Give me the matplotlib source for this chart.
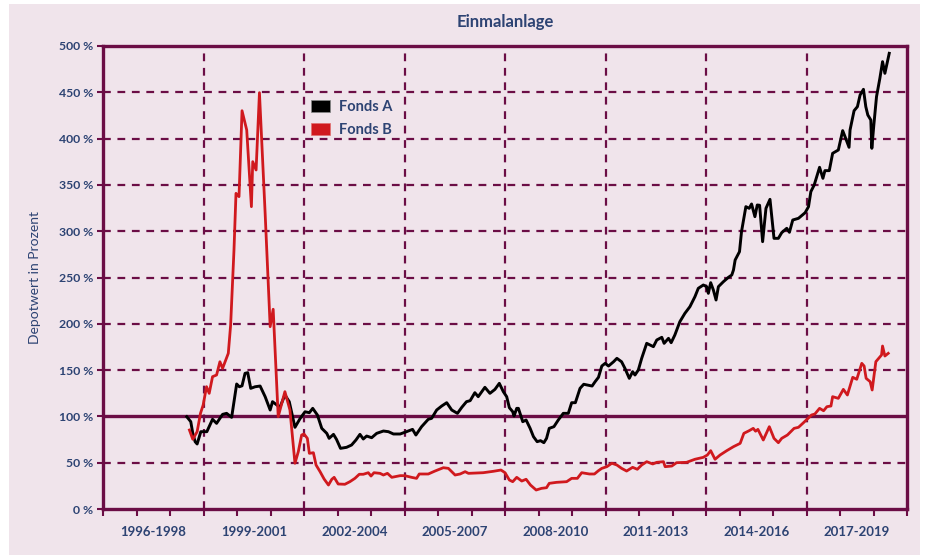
import matplotlib
matplotlib.use("Agg")
import matplotlib.pyplot as plt
from matplotlib.patches import Rectangle, Patch

plt.rcParams['font.family'] = ['Lato', 'DejaVu Sans']

# Zeitachse in Jahren (Dezimal), Depotwert in Prozent
fonds_a_t = [1998.50, 1998.62, 1998.68, 1998.75, 1998.81, 1998.92, 1999.10, 1999.27, 1999.39, 1999.57,
             1999.69, 1999.84, 1999.99, 2000.07, 2000.15, 2000.24, 2000.32, 2000.41, 2000.54, 2000.69,
             2000.84, 2000.99, 2001.06, 2001.28, 2001.43, 2001.56, 2001.73, 2001.88, 2002.03, 2002.16,
             2002.26, 2002.40, 2002.53, 2002.68, 2002.75, 2002.88, 2002.97, 2003.09, 2003.27, 2003.42,
             2003.55, 2003.67, 2003.77, 2003.87, 2004.02, 2004.17, 2004.37, 2004.52, 2004.67, 2004.87,
             2005.06, 2005.24, 2005.34, 2005.51, 2005.71, 2005.81, 2005.96, 2006.11, 2006.26, 2006.41,
             2006.58, 2006.71, 2006.85, 2006.96, 2007.10, 2007.20, 2007.40, 2007.55, 2007.70, 2007.83,
             2007.95, 2008.05, 2008.13, 2008.23, 2008.27, 2008.35, 2008.40, 2008.53, 2008.63, 2008.75,
             2008.85, 2008.96, 2009.06, 2009.16, 2009.24, 2009.32, 2009.46, 2009.59, 2009.74, 2009.89,
             2009.99, 2010.10, 2010.24, 2010.35, 2010.60, 2010.69, 2010.79, 2010.89, 2010.99, 2011.09,
             2011.24, 2011.34, 2011.48, 2011.58, 2011.71, 2011.81, 2011.88, 2011.98, 2012.08, 2012.23,
             2012.43, 2012.53, 2012.68, 2012.75, 2012.88, 2012.96, 2013.07, 2013.22, 2013.37, 2013.52,
             2013.67, 2013.77, 2013.92, 2014.02, 2014.07, 2014.14, 2014.22, 2014.30, 2014.37, 2014.52,
             2014.67, 2014.77, 2014.82, 2014.87, 2015.00, 2015.06, 2015.12, 2015.19, 2015.29, 2015.36,
             2015.46, 2015.53, 2015.60, 2015.69, 2015.79, 2015.91, 2016.03, 2016.16, 2016.26, 2016.41,
             2016.49, 2016.59, 2016.76, 2016.96, 2017.06, 2017.13, 2017.23, 2017.31, 2017.39, 2017.49,
             2017.55, 2017.68, 2017.78, 2017.95, 2018.08, 2018.15, 2018.27, 2018.30, 2018.42, 2018.52,
             2018.60, 2018.70, 2018.77, 2018.83, 2018.92, 2018.95, 2019.01, 2019.09, 2019.19, 2019.27,
             2019.34, 2019.47]
fonds_a_v = [99.7, 94.3, 81.7, 72.7, 70.2, 83.5, 83.5, 96.9, 92.5, 102.2,
             103.3, 99.0, 135.0, 132.0, 133.0, 146.5, 147.2, 130.3, 132.0, 132.8,
             121.3, 106.9, 115.9, 109.8, 123.1, 115.9, 88.2, 97.5, 105.0, 104.0,
             108.7, 101.5, 87.1, 81.7, 76.3, 80.6, 75.2, 65.5, 66.6, 69.1,
             74.5, 80.6, 75.6, 78.8, 77.0, 81.7, 84.2, 83.5, 81.0, 81.0,
             83.5, 86.0, 79.9, 88.9, 96.9, 97.9, 106.9, 111.2, 114.8, 106.9,
             103.3, 109.8, 115.9, 117.0, 125.6, 121.3, 131.4, 124.9, 129.2, 135.7,
             126.7, 121.3, 109.4, 105.1, 100.4, 108.7, 108.7, 94.3, 96.1, 87.1,
             78.1, 72.7, 73.8, 71.6, 76.3, 87.1, 88.9, 96.1, 103.3, 103.3,
             114.8, 114.8, 130.3, 134.7, 132.8, 137.5, 142.2, 154.4, 157.3, 154.4,
             159.0, 162.7, 159.0, 151.9, 141.1, 148.3, 144.7, 150.1, 162.7, 178.9,
             175.3, 182.5, 185.4, 178.9, 184.3, 179.6, 187.9, 202.3, 211.3, 218.5,
             229.3, 238.3, 241.9, 240.1, 232.9, 244.4, 236.5, 225.7, 240.1, 245.5,
             250.2, 252.7, 258.1, 268.9, 277.9, 299.5, 312.1, 326.5, 324.7, 329.4,
             315.7, 328.3, 328.0, 288.7, 324.7, 334.4, 292.3, 292.3, 298.4, 303.1,
             298.8, 312.1, 313.9, 320.0, 326.5, 342.7, 349.9, 359.6, 369.0, 357.1,
             365.4, 365.4, 384.1, 387.7, 408.6, 402.1, 390.6, 409.3, 430.1, 434.5,
             447.1, 453.2, 434.5, 425.5, 420.1, 389.5, 414.7, 445.3, 465.1, 483.1,
             470.5, 492.1]

fonds_b_t = [1998.58, 1998.68, 1998.81, 1998.91, 1998.99, 1999.09, 1999.17, 1999.27, 1999.39, 1999.49,
             1999.57, 1999.74, 1999.81, 1999.91, 1999.97, 2000.06, 2000.15, 2000.29, 2000.43, 2000.47,
             2000.57, 2000.67, 2000.84, 2000.99, 2001.08, 2001.23, 2001.43, 2001.58, 2001.73, 2001.83,
             2001.93, 2002.00, 2002.10, 2002.16, 2002.28, 2002.36, 2002.48, 2002.60, 2002.73, 2002.83,
             2002.90, 2003.02, 2003.22, 2003.37, 2003.52, 2003.65, 2003.77, 2003.92, 2004.00, 2004.09,
             2004.27, 2004.37, 2004.49, 2004.62, 2004.87, 2005.01, 2005.21, 2005.36, 2005.44, 2005.71,
             2005.91, 2006.16, 2006.31, 2006.51, 2006.66, 2006.81, 2006.91, 2007.35, 2007.65, 2007.88,
             2008.00, 2008.13, 2008.23, 2008.35, 2008.50, 2008.63, 2008.76, 2008.93, 2009.09, 2009.24,
             2009.32, 2009.54, 2009.84, 2009.99, 2010.16, 2010.29, 2010.52, 2010.67, 2010.79, 2010.89,
             2011.04, 2011.19, 2011.34, 2011.48, 2011.63, 2011.81, 2011.95, 2012.08, 2012.23, 2012.41,
             2012.53, 2012.73, 2012.78, 2012.98, 2013.12, 2013.42, 2013.67, 2013.92, 2014.04, 2014.14,
             2014.27, 2014.42, 2014.62, 2014.82, 2015.02, 2015.13, 2015.29, 2015.41, 2015.48, 2015.55,
             2015.71, 2015.89, 2016.03, 2016.16, 2016.26, 2016.43, 2016.63, 2016.76, 2016.91, 2017.15,
             2017.25, 2017.39, 2017.51, 2017.61, 2017.73, 2017.78, 2017.95, 2018.10, 2018.22, 2018.38,
             2018.50, 2018.65, 2018.72, 2018.78, 2018.90, 2018.96, 2019.07, 2019.24, 2019.27, 2019.34,
             2019.44]
fonds_b_v = [85.3, 75.3, 83.5, 103.3, 112.3, 132.1, 124.9, 142.9, 144.7, 159.0,
             151.9, 168.1, 198.7, 279.7, 340.9, 337.3, 430.1, 409.3, 326.5, 375.1,
             366.1, 449.6, 319.3, 196.9, 215.7, 99.7, 126.7, 106.9, 49.4, 61.9,
             79.9, 81.0, 76.3, 60.1, 60.8, 47.5, 40.3, 32.4, 25.9, 32.1,
             34.2, 27.0, 26.7, 29.5, 33.1, 37.5, 37.5, 39.2, 35.6, 39.2,
             38.5, 36.7, 38.5, 34.2, 36.0, 36.0, 34.2, 33.1, 37.8, 37.8,
             41.0, 44.6, 43.9, 36.7, 37.8, 40.3, 38.5, 39.2, 40.7, 42.1,
             39.2, 31.3, 29.5, 34.2, 30.2, 32.1, 25.9, 20.5, 22.3, 23.0,
             27.7, 28.8, 29.5, 33.1, 33.1, 39.2, 37.8, 37.8, 41.4, 43.9,
             45.7, 49.4, 47.5, 43.9, 41.0, 45.0, 42.9, 47.5, 51.1, 48.6,
             50.4, 51.1, 45.7, 46.4, 50.0, 50.4, 53.7, 55.8, 58.3, 63.0,
             53.7, 58.3, 63.0, 67.3, 70.9, 81.7, 84.6, 87.1, 84.0, 86.0,
             74.5, 88.9, 76.3, 71.6, 76.3, 79.9, 87.1, 88.2, 93.2, 101.5,
             102.6, 108.7, 106.1, 110.5, 111.2, 121.3, 119.5, 129.2, 123.1, 142.2,
             140.1, 157.3, 154.4, 141.1, 137.5, 128.5, 159.1, 166.3, 176.0, 165.2,
             168.1]

period_labels = ["1996-1998", "1999-2001", "2002-2004", "2005-2007", "2008-2010",
                 "2011-2013", "2014-2016", "2017-2019"]
y_ticks = [0, 50, 100, 150, 200, 250, 300, 350, 400, 450, 500]

purple = '#6b0d45'
navy = '#2d4373'
bg = '#f0e4eb'

fig = plt.figure(figsize=(9.3, 5.55), dpi=100, facecolor='white')
fig.patches.append(Rectangle((9 / 930, 0), 911 / 930, 551 / 555, transform=fig.transFigure,
                             facecolor=bg, edgecolor='none', zorder=-10))
ax = fig.add_axes([103 / 930, 46 / 555, 804 / 930, 463 / 555])
ax.set_facecolor(bg)

ax.set_xlim(1996, 2020)
ax.set_ylim(0, 500)

# Gitter
for x in range(1999, 2020, 3):
    ax.axvline(x, color=purple, lw=1.6, ls=(0, (3.5, 3)), zorder=1)
for y in y_ticks[1:-1]:
    if y == 100:
        ax.axhline(y, color=purple, lw=2.4, zorder=1)
    else:
        ax.axhline(y, color=purple, lw=1.6, ls=(0, (3.5, 3)), zorder=1)

ax.plot(fonds_a_t, fonds_a_v, color='black', lw=2.1, zorder=3)
ax.plot(fonds_b_t, fonds_b_v, color='#d0191e', lw=2.0, zorder=3)

for s in ax.spines.values():
    s.set_color(purple)
    s.set_linewidth(2.4)

ax.set_yticks(y_ticks)
ax.set_yticklabels([f"{v} %" for v in y_ticks], color=navy, fontsize=8.8, fontweight='bold')
ax.tick_params(axis='y', length=4, width=1.5, color=purple, pad=3)

ax.set_xticks(range(1996, 2021))
ax.set_xticklabels([])
ax.tick_params(axis='x', which='major', length=5, width=1.5, color=purple)
ax.set_xticks([1997.5 + 3 * i for i in range(len(period_labels))], minor=True)
ax.set_xticklabels(period_labels, minor=True, color=navy, fontsize=9.5, fontweight='bold')
ax.tick_params(axis='x', which='minor', length=0, pad=12)

ax.set_ylabel("Depotwert in Prozent", color=navy, fontsize=10, labelpad=13)
fig.text(505 / 930, 1 - 22 / 555, "Einmalanlage", ha='center', va='center',
         color=navy, fontsize=12, fontweight='bold')

handles = [Patch(facecolor='black', edgecolor='#888888', lw=0.5, label='Fonds A'),
           Patch(facecolor='#d0191e', edgecolor='#e07070', lw=0.5, label='Fonds B')]
leg = ax.legend(handles=handles, loc='upper left', bbox_to_anchor=(0.243, 0.912), frameon=False,
                handlelength=1.3, handleheight=0.9, handletextpad=0.6, labelspacing=0.6,
                prop={'size': 10.5, 'weight': 'bold'})
for t in leg.get_texts():
    t.set_color(navy)

fig.savefig("out.png", dpi=100, facecolor=fig.get_facecolor())
